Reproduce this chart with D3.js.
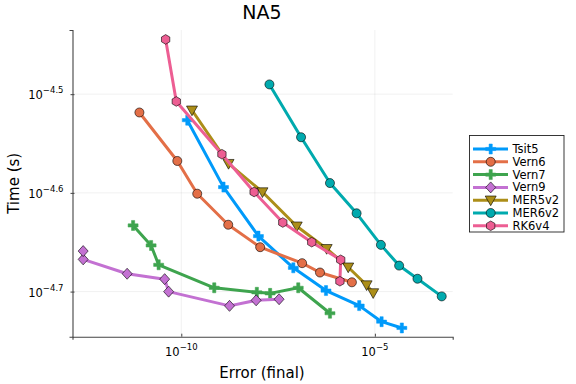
<!DOCTYPE html>
<html>
<head>
<meta charset="utf-8">
<script src="https://cdn.jsdelivr.net/npm/d3@7"></script>
<style>
  html, body { margin: 0; padding: 0; background: #fff; }
  svg { display: block; font-family: "DejaVu Sans", sans-serif; }
</style>
</head>
<body>
<svg id="chart" width="576" height="384"></svg>
<script>
// ---- data (error, time in seconds) ----
const seriesNames = ["Tsit5", "Vern6", "Vern7", "Vern9", "MER5v2", "MER6v2", "RK6v4"];

const tsit5Err  = [1.43e-10, 1.23e-9, 9.82e-9, 7.83e-8, 5.46e-7, 3.94e-6, 1.49e-5, 4.97e-5];
const tsit5Time = [2.976e-5, 2.546e-5, 2.271e-5, 2.109e-5, 2.000e-5, 1.931e-5, 1.860e-5, 1.833e-5];

const vern6Err  = [8.28e-12, 7.89e-11, 2.58e-10, 1.63e-9, 1.09e-8, 1.32e-7, 3.82e-7, 2.55e-6];
const vern6Time = [3.030e-5, 2.706e-5, 2.507e-5, 2.332e-5, 2.213e-5, 2.132e-5, 2.086e-5, 2.039e-5];

const vern7Err  = [5.69e-12, 1.66e-11, 2.60e-11, 7.10e-10, 8.93e-9, 1.97e-8, 1.05e-7, 6.92e-7];
const vern7Time = [2.328e-5, 2.222e-5, 2.124e-5, 2.013e-5, 1.992e-5, 1.987e-5, 2.013e-5, 1.897e-5];

const vern9Err  = [3.36e-8, 8.57e-9, 1.76e-9, 4.71e-11, 3.72e-11, 3.99e-12, 2.92e-13, 2.92e-13];
const vern9Time = [1.960e-5, 1.955e-5, 1.930e-5, 1.995e-5, 2.054e-5, 2.080e-5, 2.151e-5, 2.193e-5];

const mer5Err   = [1.89e-10, 1.66e-9, 1.25e-8, 9.59e-8, 5.69e-7, 2.05e-6, 6.11e-6, 9.04e-6];
const mer5Time  = [3.046e-5, 2.689e-5, 2.517e-5, 2.324e-5, 2.205e-5, 2.112e-5, 2.026e-5, 1.989e-5];

const mer6Err   = [1.89e-8, 1.24e-7, 6.92e-7, 3.37e-6, 1.43e-5, 4.23e-5, 1.26e-4, 5.33e-4];
const mer6Time  = [3.235e-5, 2.860e-5, 2.570e-5, 2.395e-5, 2.225e-5, 2.120e-5, 2.056e-5, 1.973e-5];

const rk6Err    = [3.94e-11, 7.43e-11, 1.12e-9, 7.60e-9, 4.18e-8, 2.34e-7, 1.31e-6, 1.25e-6];
const rk6Time   = [3.593e-5, 3.109e-5, 2.749e-5, 2.517e-5, 2.344e-5, 2.239e-5, 2.149e-5, 2.044e-5];

const xTickExps = ["10", "5"];        // 10^-10, 10^-5
const yTickExps = ["4.7", "4.6", "4.5"];

const colors  = ["#009AFA", "#E36F47", "#3EA44E", "#C371D2", "#AC8E18", "#00AAAE", "#ED5E93"];
const markers = ["cross", "circle", "cross", "diamond", "dtriangle", "circle", "hexagon"];

const errs  = [tsit5Err, vern6Err, vern7Err, vern9Err, mer5Err, mer6Err, rk6Err];
const times = [tsit5Time, vern6Time, vern7Time, vern9Time, mer5Time, mer6Time, rk6Time];

// ---- layout ----
const svg = d3.select("#chart");
const L = 72.5, R = 452.7, T = 30, B = 336.7;

const x = d3.scaleLog().domain([Math.pow(10, -12.81), Math.pow(10, -2.99)]).range([L, R]);
const y = d3.scaleLog().domain([Math.pow(10, -4.7457), Math.pow(10, -4.435)]).range([B, T]);

const xTicks = xTickExps.map(e => Math.pow(10, -Number(e)));
const yTicks = yTickExps.map(e => Math.pow(10, -Number(e)));

// grid
const grid = svg.append("g");
xTicks.forEach(v => grid.append("line")
  .attr("x1", x(v)).attr("x2", x(v)).attr("y1", T).attr("y2", B)
  .attr("stroke", "#000").attr("stroke-opacity", 0.1).attr("stroke-width", 0.6));
yTicks.forEach(v => grid.append("line")
  .attr("x1", L).attr("x2", R).attr("y1", y(v)).attr("y2", y(v))
  .attr("stroke", "#000").attr("stroke-opacity", 0.1).attr("stroke-width", 0.6));

// axes
const xAxis = d3.axisBottom(x).tickValues(xTicks).tickSize(3).tickFormat("");
const yAxis = d3.axisLeft(y).tickValues(yTicks).tickSize(3).tickFormat("");
const gx = svg.append("g").attr("transform", `translate(0,${B})`).call(xAxis);
const gy = svg.append("g").attr("transform", `translate(${L},0)`).call(yAxis);
[gx, gy].forEach(g => {
  g.select(".domain").attr("stroke", "#444").attr("stroke-width", 1.1);
  g.selectAll(".tick line").attr("stroke", "#444");
});
gx.selectAll(".tick line").attr("y1", 0).attr("y2", -3);
gy.selectAll(".tick line").attr("x1", -2).attr("x2", 2);

// tick labels with superscripts
xTicks.forEach((v, i) => {
  const t = svg.append("text").attr("x", x(v)).attr("y", 355.5)
    .attr("text-anchor", "middle").attr("font-size", 11.5).attr("fill", "#000");
  t.append("tspan").text("10");
  t.append("tspan").attr("dy", -6).attr("font-size", 8.5).text("\u2212" + xTickExps[i]);
});
yTicks.forEach((v, i) => {
  const t = svg.append("text").attr("x", 63.5).attr("y", y(v) + 5)
    .attr("text-anchor", "end").attr("font-size", 11.5).attr("fill", "#000");
  t.append("tspan").text("10");
  t.append("tspan").attr("dy", -6).attr("font-size", 8.5).text("\u2212" + yTickExps[i]);
});

// labels
svg.append("text").attr("x", 262).attr("y", 19).attr("text-anchor", "middle")
  .attr("font-size", 19).text("NA5");
svg.append("text").attr("x", 262).attr("y", 378).attr("text-anchor", "middle")
  .attr("font-size", 15).text("Error (final)");
svg.append("text").attr("transform", `translate(19,${(T + B) / 2}) rotate(-90)`)
  .attr("text-anchor", "middle").attr("font-size", 15).text("Time (s)");

// marker shapes
function markerPath(type) {
  switch (type) {
    case "circle": return d3.symbol(d3.symbolCircle, 64)();
    case "cross": {
      const a = 5, w = 1.6;
      return `M${-w},${-a}H${w}V${-w}H${a}V${w}H${w}V${a}H${-w}V${w}H${-a}V${-w}H${-w}Z`;
    }
    case "diamond": return "M0,-5.5L5,0L0,5.5L-5,0Z";
    case "dtriangle": return "M-5.5,-4.2L5.5,-4.2L0,5.5Z";
    case "hexagon": {
      const r = 4.8; let p = "";
      for (let k = 0; k < 6; k++) {
        const ang = Math.PI / 6 + k * Math.PI / 3;
        p += (k ? "L" : "M") + (r * Math.cos(ang)).toFixed(2) + "," + (r * Math.sin(ang)).toFixed(2);
      }
      return p + "Z";
    }
  }
}

const line = d3.line().x(d => x(d[0])).y(d => y(d[1]));

seriesNames.forEach((name, i) => {
  const pts = errs[i].map((e, j) => [e, times[i][j]]);
  const g = svg.append("g");
  g.append("path").datum(pts).attr("d", line).attr("fill", "none")
    .attr("stroke", colors[i]).attr("stroke-width", 3).attr("stroke-linejoin", "round");
  const mp = markerPath(markers[i]);
  g.selectAll("path.m").data(pts).enter().append("path").attr("class", "m")
    .attr("d", mp)
    .attr("transform", d => `translate(${x(d[0])},${y(d[1])})`)
    .attr("fill", colors[i])
    .attr("stroke", markers[i] === "cross" ? colors[i] : "#000")
    .attr("stroke-opacity", markers[i] === "cross" ? 1 : 0.75)
    .attr("stroke-width", markers[i] === "cross" ? 0.5 : 0.8);
});

// legend
const lg = svg.append("g");
lg.append("rect").attr("x", 469.5).attr("y", 135.5).attr("width", 94.5).attr("height", 96.5)
  .attr("fill", "#fff").attr("stroke", "#222").attr("stroke-width", 0.9);
seriesNames.forEach((name, i) => {
  const yy = 149 + i * 12.8;
  lg.append("line").attr("x1", 473).attr("x2", 508).attr("y1", yy).attr("y2", yy)
    .attr("stroke", colors[i]).attr("stroke-width", 3);
  lg.append("path").attr("d", markerPath(markers[i]))
    .attr("transform", `translate(490.7,${yy})`)
    .attr("fill", colors[i])
    .attr("stroke", markers[i] === "cross" ? colors[i] : "#000")
    .attr("stroke-opacity", markers[i] === "cross" ? 1 : 0.75)
    .attr("stroke-width", markers[i] === "cross" ? 0.5 : 0.8);
  lg.append("text").attr("x", 512.5).attr("y", yy + 4).attr("font-size", 11.5).text(name);
});
</script>
</body>
</html>
